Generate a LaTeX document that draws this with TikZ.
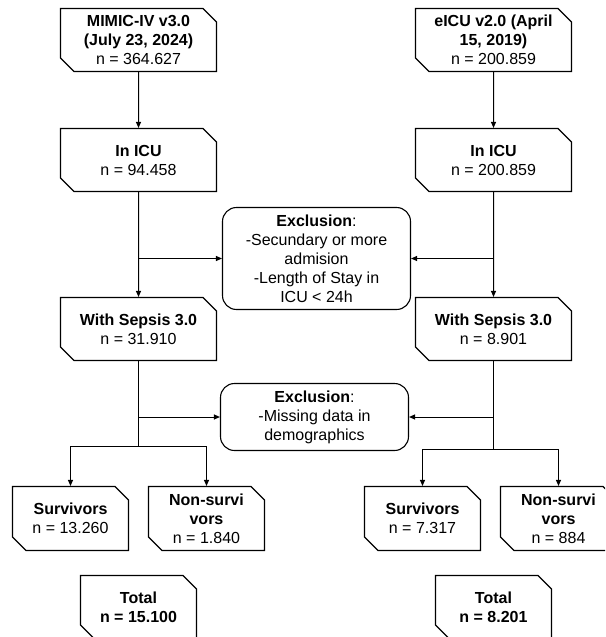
\documentclass[tikz,border=0pt]{standalone}
\usepackage{fontspec}
\setmainfont{Liberation Sans}
\usetikzlibrary{shapes.misc,arrows.meta}
\begin{document}
\begin{tikzpicture}[x=1pt,y=-1pt,
  every node/.style={font=\fontsize{16}{19}\selectfont, align=center, inner sep=0pt},
  sbox/.style={draw, line width=1.1pt, chamfered rectangle,
    chamfered rectangle corners={north east,south west},
    chamfered rectangle xsep=10pt, chamfered rectangle angle=45,
    minimum width=#1, minimum height=63pt},
  sbox/.default=156pt,
  xbox/.style={draw, line width=1.1pt, rounded corners=14pt, minimum width=188pt},
  conn/.style={line width=1pt},
  arr/.style={conn, -{Triangle[length=6pt,width=5pt]}}]
\useasboundingbox (0,0) rectangle (605,637);
\clip (0,0) rectangle (605,637);
% left column
\node[sbox] (m0) at (138.5,40) {\textbf{MIMIC-IV v3.0}\\\textbf{(July 23, 2024)}\\n = 364.627};
\node[sbox] (m1) at (138.5,160) {\textbf{In ICU}\\n = 94.458};
\node[sbox] (m2) at (138.5,329) {\textbf{With Sepsis 3.0}\\n = 31.910};
\node[sbox=116pt, minimum height=64pt] (ms) at (70.5,518.5) {\textbf{Survivors}\\n = 13.260};
\node[sbox=116pt, minimum height=64pt] (mn) at (206.5,518.5) {\textbf{Non-survi}\\\textbf{vors}\\n = 1.840};
\node[sbox=116pt] (mt) at (138.5,607) {\textbf{Total}\\\textbf{n = 15.100}};
% right column
\node[sbox] (e0) at (493.5,40) {\textbf{eICU v2.0 (April}\\\textbf{15, 2019)}\\n = 200.859};
\node[sbox] (e1) at (493.5,160) {\textbf{In ICU}\\n = 200.859};
\node[sbox] (e2) at (493.5,329) {\textbf{With Sepsis 3.0}\\n = 8.901};
\node[sbox=116pt, minimum height=64pt] (es) at (422.5,518.5) {\textbf{Survivors}\\n = 7.317};
\node[sbox=116pt, minimum height=64pt] (en) at (558.5,518.5) {\textbf{Non-survi}\\\textbf{vors}\\n = 884};
\node[sbox=116pt] (et) at (493.5,607) {\textbf{Total}\\\textbf{n = 8.201}};
% exclusion boxes
\node[xbox, minimum height=102pt] (x1) at (316.5,258.5) {\textbf{Exclusion}:\\-Secundary or more\\admision\\-Length of Stay in\\ICU \textless{} 24h};
\node[xbox, minimum height=67pt] (x2) at (314.5,417) {\textbf{Exclusion}:\\-Missing data in\\demographics};
% branch points
\coordinate (mb) at (138.5,446.5);
\coordinate (eb) at (493.5,449.5);
% connectors
\draw[arr] (m0) -- (m1);
\draw[arr] (m1) -- (m2);
\draw[arr] (m1.south |- x1.west) -- (x1.west);
\draw[arr] (e0) -- (e1);
\draw[arr] (e1) -- (e2);
\draw[arr] (e1.south |- x1.east) -- (x1.east);
\draw[conn] (m2.south) -- (mb);
\draw[conn] (e2.south) -- (eb);
\draw[arr] (m2.south |- x2.west) -- (x2.west);
\draw[arr] (e2.south |- x2.east) -- (x2.east);
\draw[arr] (mb) -| (ms.north);
\draw[arr] (mb) -| (mn.north);
\draw[arr] (eb) -| (es.north);
\draw[arr] (eb) -| (en.north);
\end{tikzpicture}
\end{document}
